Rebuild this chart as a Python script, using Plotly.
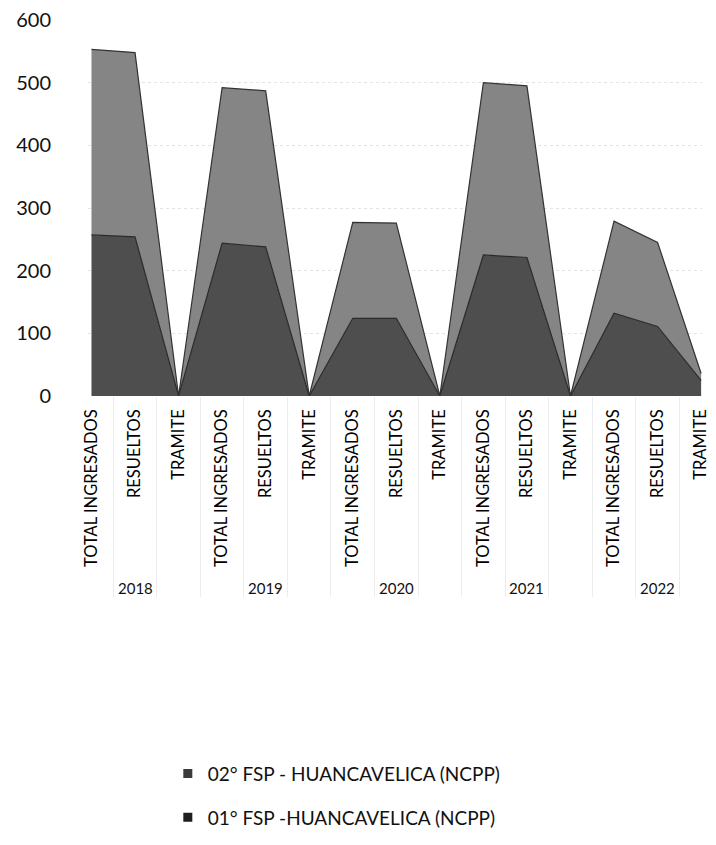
import plotly.graph_objects as go

years = ["2018", "2019", "2020", "2021", "2022"]
cats = ["TOTAL INGRESADOS", "RESUELTOS", "TRAMITE"]
fsp01 = [257, 254, 0, 244, 238, 0, 124, 124, 0, 225, 221, 0, 132, 111, 25]
fsp02 = [296, 294, 0, 248, 249, 0, 153, 152, 0, 275, 274, 0, 147, 134, 11]
name01 = "01° FSP -HUANCAVELICA (NCPP)"
name02 = "02° FSP - HUANCAVELICA (NCPP)"
yticks = [0, 100, 200, 300, 400, 500, 600]

n = len(years) * len(cats)
xs = list(range(n))
ticktext = [c for _ in years for c in cats]

FONT = "Lato"
fig = go.Figure()
fig.add_trace(go.Scatter(
    x=xs, y=fsp01, name=name01, stackgroup="s", mode="lines",
    line=dict(color="#2a2a2a", width=1.2), fillcolor="#4e4e4e",
    showlegend=False))
fig.add_trace(go.Scatter(
    x=xs, y=fsp02, name=name02, stackgroup="s", mode="lines",
    line=dict(color="#333333", width=1.2), fillcolor="#858585",
    showlegend=False))
# legend entries (square swatches like the original)
fig.add_trace(go.Scatter(x=[None], y=[None], mode="markers", name=name02,
                         marker=dict(symbol="square", size=9, color="#3a3a3a"),
                         legendrank=1, legendgroup="b"))
fig.add_trace(go.Scatter(x=[None], y=[None], mode="markers", name=name01,
                         marker=dict(symbol="square", size=9, color="#1e1e1e"),
                         legendrank=2, legendgroup="a"))

for i, yr in enumerate(years):
    fig.add_annotation(x=i * 3 + 1, y=-0.51, xref="x", yref="paper",
                       yanchor="middle", text=yr, showarrow=False,
                       font=dict(family=FONT, size=15, color="#111"))

fig.update_layout(
    width=708, height=837,
    margin=dict(l=80, r=14, t=12, b=449, autoexpand=False),
    paper_bgcolor="white", plot_bgcolor="white",
    font=dict(family=FONT, color="#111"),
    showlegend=True,
    legend=dict(orientation="v", x=0.13, xanchor="left",
                yref="container", y=0.108, yanchor="top",
                font=dict(family=FONT, size=19, color="#111"),
                tracegroupgap=16, itemwidth=30),
)
fig.update_xaxes(
    range=[-0.08, n - 1 + 0.02], tickmode="array", tickvals=xs, ticktext=ticktext,
    tickangle=-90, tickfont=dict(family=FONT, size=16.5, color="#000"),
    showgrid=False, zeroline=False, showline=False, ticks="",
    ticklabelstandoff=9, automargin=False,
    minor=dict(tickmode="array", tickvals=[x + 0.5 for x in xs[:-1]],
               ticks="outside", ticklen=200, tickcolor="#ececec", tickwidth=1),
)
fig.update_yaxes(
    range=[0, 600], tickmode="array", tickvals=yticks,
    tickfont=dict(family=FONT, size=20, color="#111"),
    showgrid=True, gridcolor="#e4e4e4", griddash="dot", zeroline=False,
    ticklabelstandoff=36, ticklabeloverflow="allow", automargin=False,
)
fig.write_html("out.html")
